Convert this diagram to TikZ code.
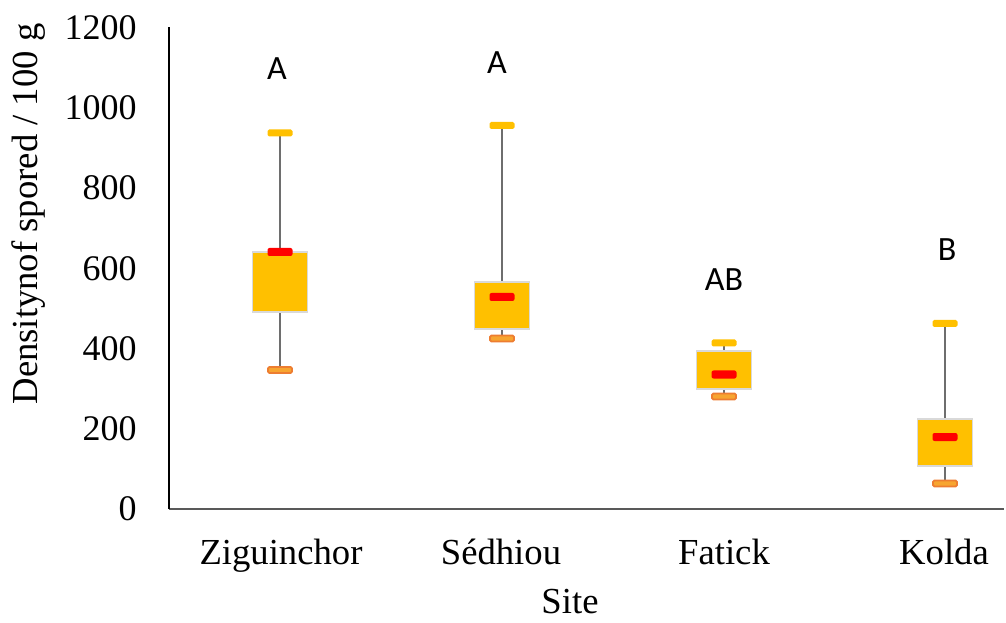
\documentclass[tikz,border=0pt]{standalone}
\usepackage{fontspec}
\setmainfont{Liberation Serif}
\newfontfamily\lettfont{Carlito}
\definecolor{boxfill}{HTML}{FFC000}
\definecolor{boxedge}{HTML}{D9D9D9}
\definecolor{whisk}{HTML}{6E6E6E}
\definecolor{mincap}{HTML}{ED7D31}
\definecolor{minfill}{HTML}{F7A530}
\definecolor{xaxis}{HTML}{595959}
\newcommand\bxplot[7]{%
  % #1 name, #2 cx, #3 top cap, #4 box top, #5 box bottom, #6 median, #7 bottom cap
  \draw[whiskline] (#2,#3) -- (#2,#4);
  \draw[whiskline] (#2,#5) -- (#2,#7);
  \path[boxbody] (#2-27.5,#4) rectangle (#2+27.5,#5);
  \path[topcap] (#2-12.5,#3-3.5) rectangle (#2+12.5,#3+3.5);
  \path[botcap] (#2-12,#7-3) rectangle (#2+12,#7+3);
  \path[medbar] (#2-12.5,#6-4) rectangle (#2+12.5,#6+4);
  \coordinate (#1) at (#2,#4);
}
\begin{document}
\begin{tikzpicture}[x=0.75pt,y=-0.75pt,
  ticklab/.style={anchor=east,inner sep=0pt,font=\fontsize{27}{30}\selectfont},
  catlab/.style={anchor=base,inner sep=0pt,font=\fontsize{27.5}{30}\selectfont},
  grplab/.style={inner sep=0pt,font=\lettfont\fontsize{25.5}{28}\selectfont},
  whiskline/.style={draw=whisk,line width=1.1pt},
  boxbody/.style={fill=boxfill,draw=boxedge,line width=1pt},
  topcap/.style={fill=boxfill,rounded corners=1.2pt},
  botcap/.style={fill=minfill,draw=mincap,line width=1.3pt,rounded corners=1pt},
  medbar/.style={fill=red,rounded corners=1.5pt}]
\useasboundingbox (0,0) rectangle (1006,623);
% axes
\coordinate (ytop) at (169,27.5);
\coordinate (orig) at (169,509);
\coordinate (xend) at (1004,509);
\draw[xaxis,line width=1.6pt] (orig) -- (xend);
\draw[black,line width=1.9pt] (orig) -- (ytop);
% tick labels
\foreach \k/\v in {0/0,1/200,2/400,3/600,4/800,5/1000,6/1200}
  \node[ticklab] (t\k) at (137,509-80.25*\k) {\v};
% box plots
\bxplot{zig}{280}{133}{252}{312}{252}{370}
\bxplot{sed}{502}{125.5}{282}{329}{297}{338.5}
\bxplot{fat}{724}{343}{351}{389}{374.5}{396.5}
\bxplot{kol}{945}{323.5}{419}{466}{437}{483.5}
% group letters
\node[grplab] (gz) at (277,69) {A};
\node[grplab] (gs) at (497,63) {A};
\node[grplab] (gf) at (724,280) {AB};
\node[grplab] (gk) at (947,250) {B};
% category labels
\node[catlab] (cz) at (281,564) {Ziguinchor};
\node[catlab] (cs) at (501,564) {Sédhiou};
\node[catlab] (cf) at (724,564) {Fatick};
\node[catlab] (ck) at (944,564) {Kolda};
\node[catlab] (xt) at (570,613) {Site};
\node[catlab,rotate=90] (yt) at (37,214) {Densitynof spored / 100 g};
\end{tikzpicture}
\end{document}
